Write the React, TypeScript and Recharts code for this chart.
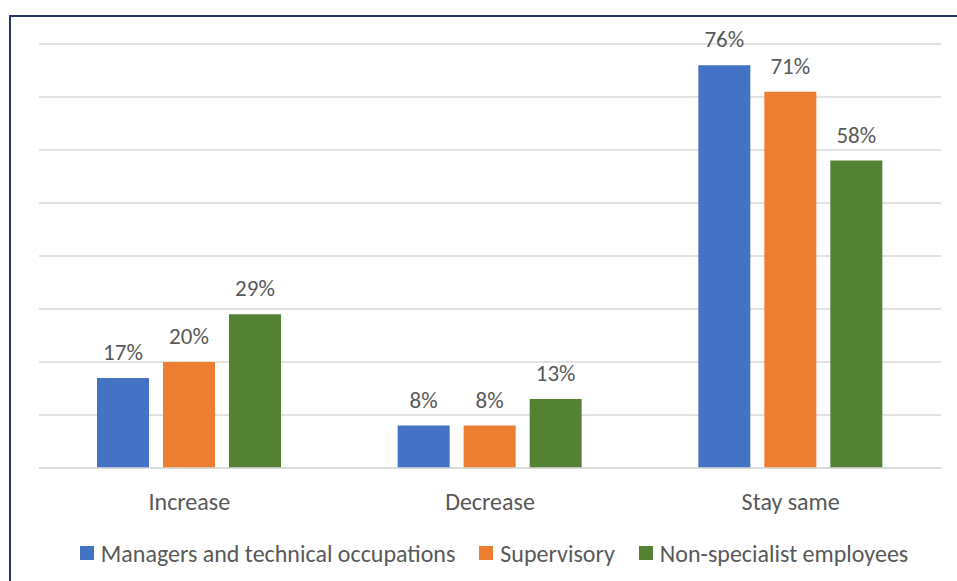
import React from 'react';
import { BarChart, Bar, XAxis, YAxis, CartesianGrid, Legend, LabelList } from 'recharts';

const categories = ['Increase', 'Decrease', 'Stay same'];
const managers = [17, 8, 76];
const supervisory = [20, 8, 71];
const nonSpecialist = [29, 13, 58];
const yTicks = [0, 10, 20, 30, 40, 50, 60, 70, 80];

const seriesKeys = ['managers', 'supervisory', 'nonSpecialist'];
const seriesNames: Record<string, string> = {
  managers: 'Managers and technical occupations',
  supervisory: 'Supervisory',
  nonSpecialist: 'Non-specialist employees',
};
const colors: Record<string, string> = {
  managers: '#4472C4',
  supervisory: '#ED7D31',
  nonSpecialist: '#548235',
};

const FONT = "Carlito, 'Liberation Sans', Arial, sans-serif";
const TEXT = '#595959';
const GRID = '#D9D9D9';

const data = categories.map((name, i) => ({
  name,
  managers: managers[i],
  supervisory: supervisory[i],
  nonSpecialist: nonSpecialist[i],
}));

// keep legend in series order (recharts sorts it by name otherwise)
const LegendContent = ({ payload }: any) => {
  const items = seriesKeys
    .map(k => (payload || []).find((p: any) => p.dataKey === k))
    .filter(Boolean);
  return (
    <div
      style={{
        display: 'flex',
        justifyContent: 'center',
        alignItems: 'center',
        height: 30,
        paddingLeft: 8,
        fontFamily: FONT,
        fontSize: 24,
        color: TEXT,
      }}
    >
      {items.map((item: any, i: number) => (
        <div key={i} style={{ display: 'flex', alignItems: 'center', marginLeft: i === 0 ? 0 : 24 }}>
          <span style={{ display: 'inline-block', width: 14, height: 14, background: item.color, marginRight: 7 }} />
          <span style={{ whiteSpace: 'nowrap' }}>{item.value}</span>
        </div>
      ))}
    </div>
  );
};

export default function App() {
  return (
    <div style={{ position: 'fixed', left: 0, top: 0, width: 957, height: 581, background: '#fff', fontFamily: FONT }}>
      <div
        style={{
          position: 'absolute',
          left: 9,
          top: 15,
          right: 0,
          bottom: 0,
          borderLeft: '2px solid #1F3864',
          borderTop: '2px solid #1F3864',
        }}
      />
      <div style={{ position: 'absolute', left: 0, top: 0 }}>
        <BarChart
          width={957}
          height={581}
          data={data}
          margin={{ top: 44, right: 16, left: 39, bottom: 13 }}
          barSize={52}
          barGap={14}
        >
          <CartesianGrid vertical={false} stroke={GRID} strokeWidth={1.5} />
          <XAxis
            dataKey="name"
            height={70}
            tickLine={false}
            axisLine={{ stroke: GRID, strokeWidth: 1.5 }}
            tickMargin={19}
            tick={{ fill: TEXT, fontSize: 24, fontFamily: FONT }}
          />
          <YAxis hide domain={[0, 80]} ticks={yTicks} />
          <Legend verticalAlign="bottom" height={30} content={<LegendContent />} />
          {seriesKeys.map(k => (
            <Bar key={k} dataKey={k} name={seriesNames[k]} fill={colors[k]} isAnimationActive={false}>
              <LabelList
                dataKey={k}
                position="top"
                offset={18}
                formatter={(v: any) => `${v}%`}
                fill={TEXT}
                fontSize={23}
                fontFamily={FONT}
              />
            </Bar>
          ))}
        </BarChart>
      </div>
    </div>
  );
}
